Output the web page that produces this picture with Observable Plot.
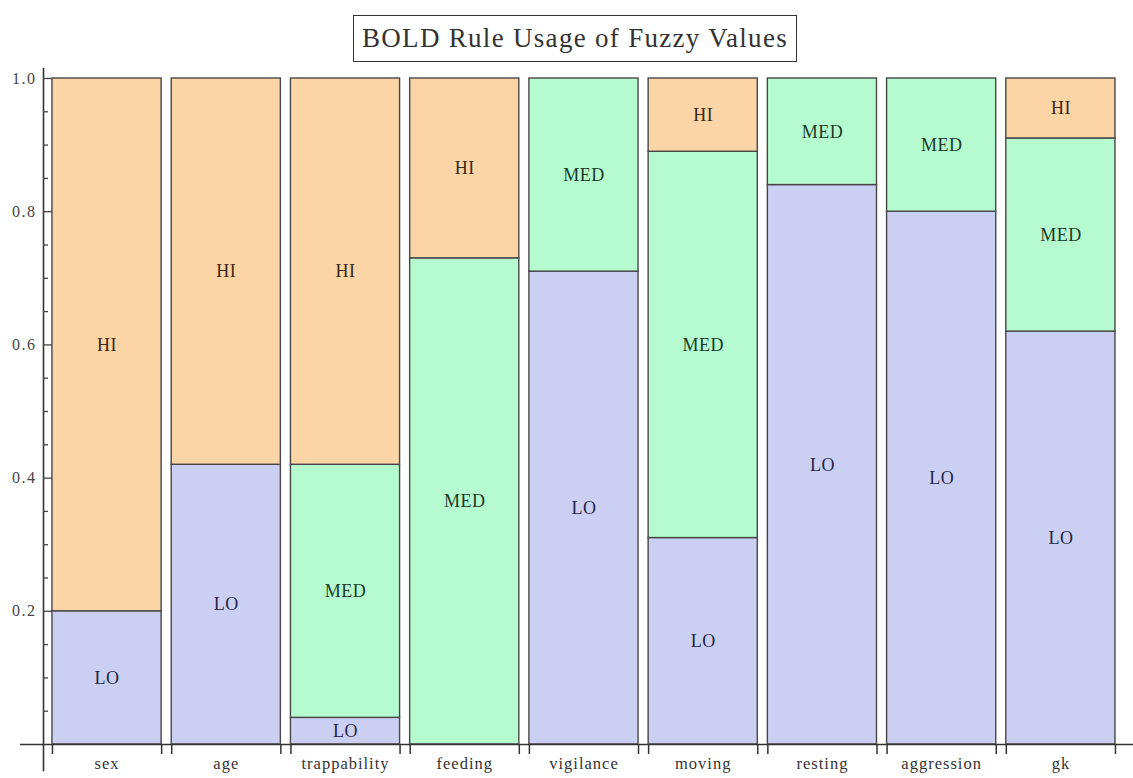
<!DOCTYPE html>
<html>
<head>
<meta charset="utf-8">
<script src="https://cdn.jsdelivr.net/npm/d3@7"></script>
<script src="https://cdn.jsdelivr.net/npm/@observablehq/plot@0.6"></script>
<style>
  html, body { margin: 0; padding: 0; background: #fff; }
  #wrap { position: relative; width: 1133px; height: 778px; overflow: hidden; font-family: "Liberation Serif", "DejaVu Serif", serif; }
  #title { position: absolute; left: 353px; top: 15px; width: 444px; height: 47px; box-sizing: border-box;
           border: 1.5px solid #333; display: flex; align-items: center; justify-content: center;
           font-size: 27px; letter-spacing: 1.3px; color: #333; white-space: nowrap; }
  #chart { position: absolute; left: 0; top: 64px; }
  #chart .xlab text { letter-spacing: 1px; }
  #chart .ylab text { letter-spacing: 1.5px; }
  #chart .seg text { letter-spacing: 0.5px; }
</style>
</head>
<body>
<div id="wrap">
  <div id="title">BOLD Rule Usage of Fuzzy Values</div>
  <div id="chart"></div>
</div>
<script>
const categories = ["sex", "age", "trappability", "feeding", "vigilance", "moving", "resting", "aggression", "gk"];
const levels = ["LO", "MED", "HI"];
const loValues  = [0.20, 0.42, 0.04, 0.00, 0.71, 0.31, 0.84, 0.80, 0.62];
const medValues = [0.00, 0.00, 0.38, 0.73, 0.29, 0.58, 0.16, 0.20, 0.29];
const hiValues  = [0.80, 0.58, 0.58, 0.27, 0.00, 0.11, 0.00, 0.00, 0.09];
const yMajorTicks = [0.2, 0.4, 0.6, 0.8, 1.0];
const yMinorTicks = [0.05, 0.1, 0.15, 0.25, 0.3, 0.35, 0.45, 0.5, 0.55, 0.65, 0.7, 0.75, 0.85, 0.9, 0.95];

const fills = { LO: "#cbd0f3", MED: "#b5fbcf", HI: "#fcd5a6" };
const inks  = { LO: "#23264a", MED: "#1c3a28", HI: "#3a2818" };
const gap = 0.0423;

const series = [loValues, medValues, hiValues];
const rows = [];
categories.forEach((cat, i) => {
  let base = 0;
  levels.forEach((level, k) => {
    const v = series[k][i];
    if (v > 0) {
      rows.push({ cat, i, level, y1: base, y2: base + v });
      base += v;
    }
  });
});
const edges = categories.flatMap((c, i) => [i + gap, i + 1 - gap]);
const centers = categories.map((c, i) => i + 0.5);

const chart = Plot.plot({
  width: 1133,
  height: 714,
  marginLeft: 43,
  marginRight: 13,
  marginTop: 14,
  marginBottom: 34,
  x: { type: "linear", domain: [-0.033, categories.length], axis: null },
  y: { domain: [0, 1], axis: null },
  style: { fontFamily: "'Liberation Serif', 'DejaVu Serif', serif", background: "transparent", color: "#333" },
  marks: [
    Plot.rect(rows, {
      x1: d => d.i + gap, x2: d => d.i + 1 - gap, y1: "y1", y2: "y2",
      fill: d => fills[d.level], stroke: "#474747", strokeWidth: 1.4
    }),
    Plot.text(rows, {
      x: d => d.i + 0.5, y: d => (d.y1 + d.y2) / 2, text: "level",
      fill: d => inks[d.level], fontSize: 18, className: "seg"
    }),
    Plot.ruleY([0], { stroke: "#333", strokeWidth: 1.6, insetLeft: -23, insetRight: -13 }),
    Plot.frame({ anchor: "left", stroke: "#333", strokeWidth: 1.6, insetTop: -10, insetBottom: -26 }),
    Plot.axisX({ ticks: edges, anchor: "bottom", tickSize: 10, tickFormat: () => "", color: "#333", strokeWidth: 1.5 }),
    Plot.axisX({ ticks: centers, anchor: "bottom", tickSize: 0, tickPadding: 13,
                 tickFormat: d => categories[Math.floor(d)], fontSize: 16.5, color: "#333", className: "xlab" }),
    Plot.axisY({ ticks: yMajorTicks, anchor: "left", tickSize: -9, tickPadding: 16,
                 tickFormat: d3.format(".1f"), fontSize: 16, color: "#444", strokeWidth: 1.3, className: "ylab" }),
    Plot.axisY({ ticks: yMinorTicks, anchor: "left", tickSize: -5, tickFormat: () => "", color: "#444", strokeWidth: 1.3 })
  ]
});
document.getElementById("chart").appendChild(chart);
</script>
</body>
</html>
